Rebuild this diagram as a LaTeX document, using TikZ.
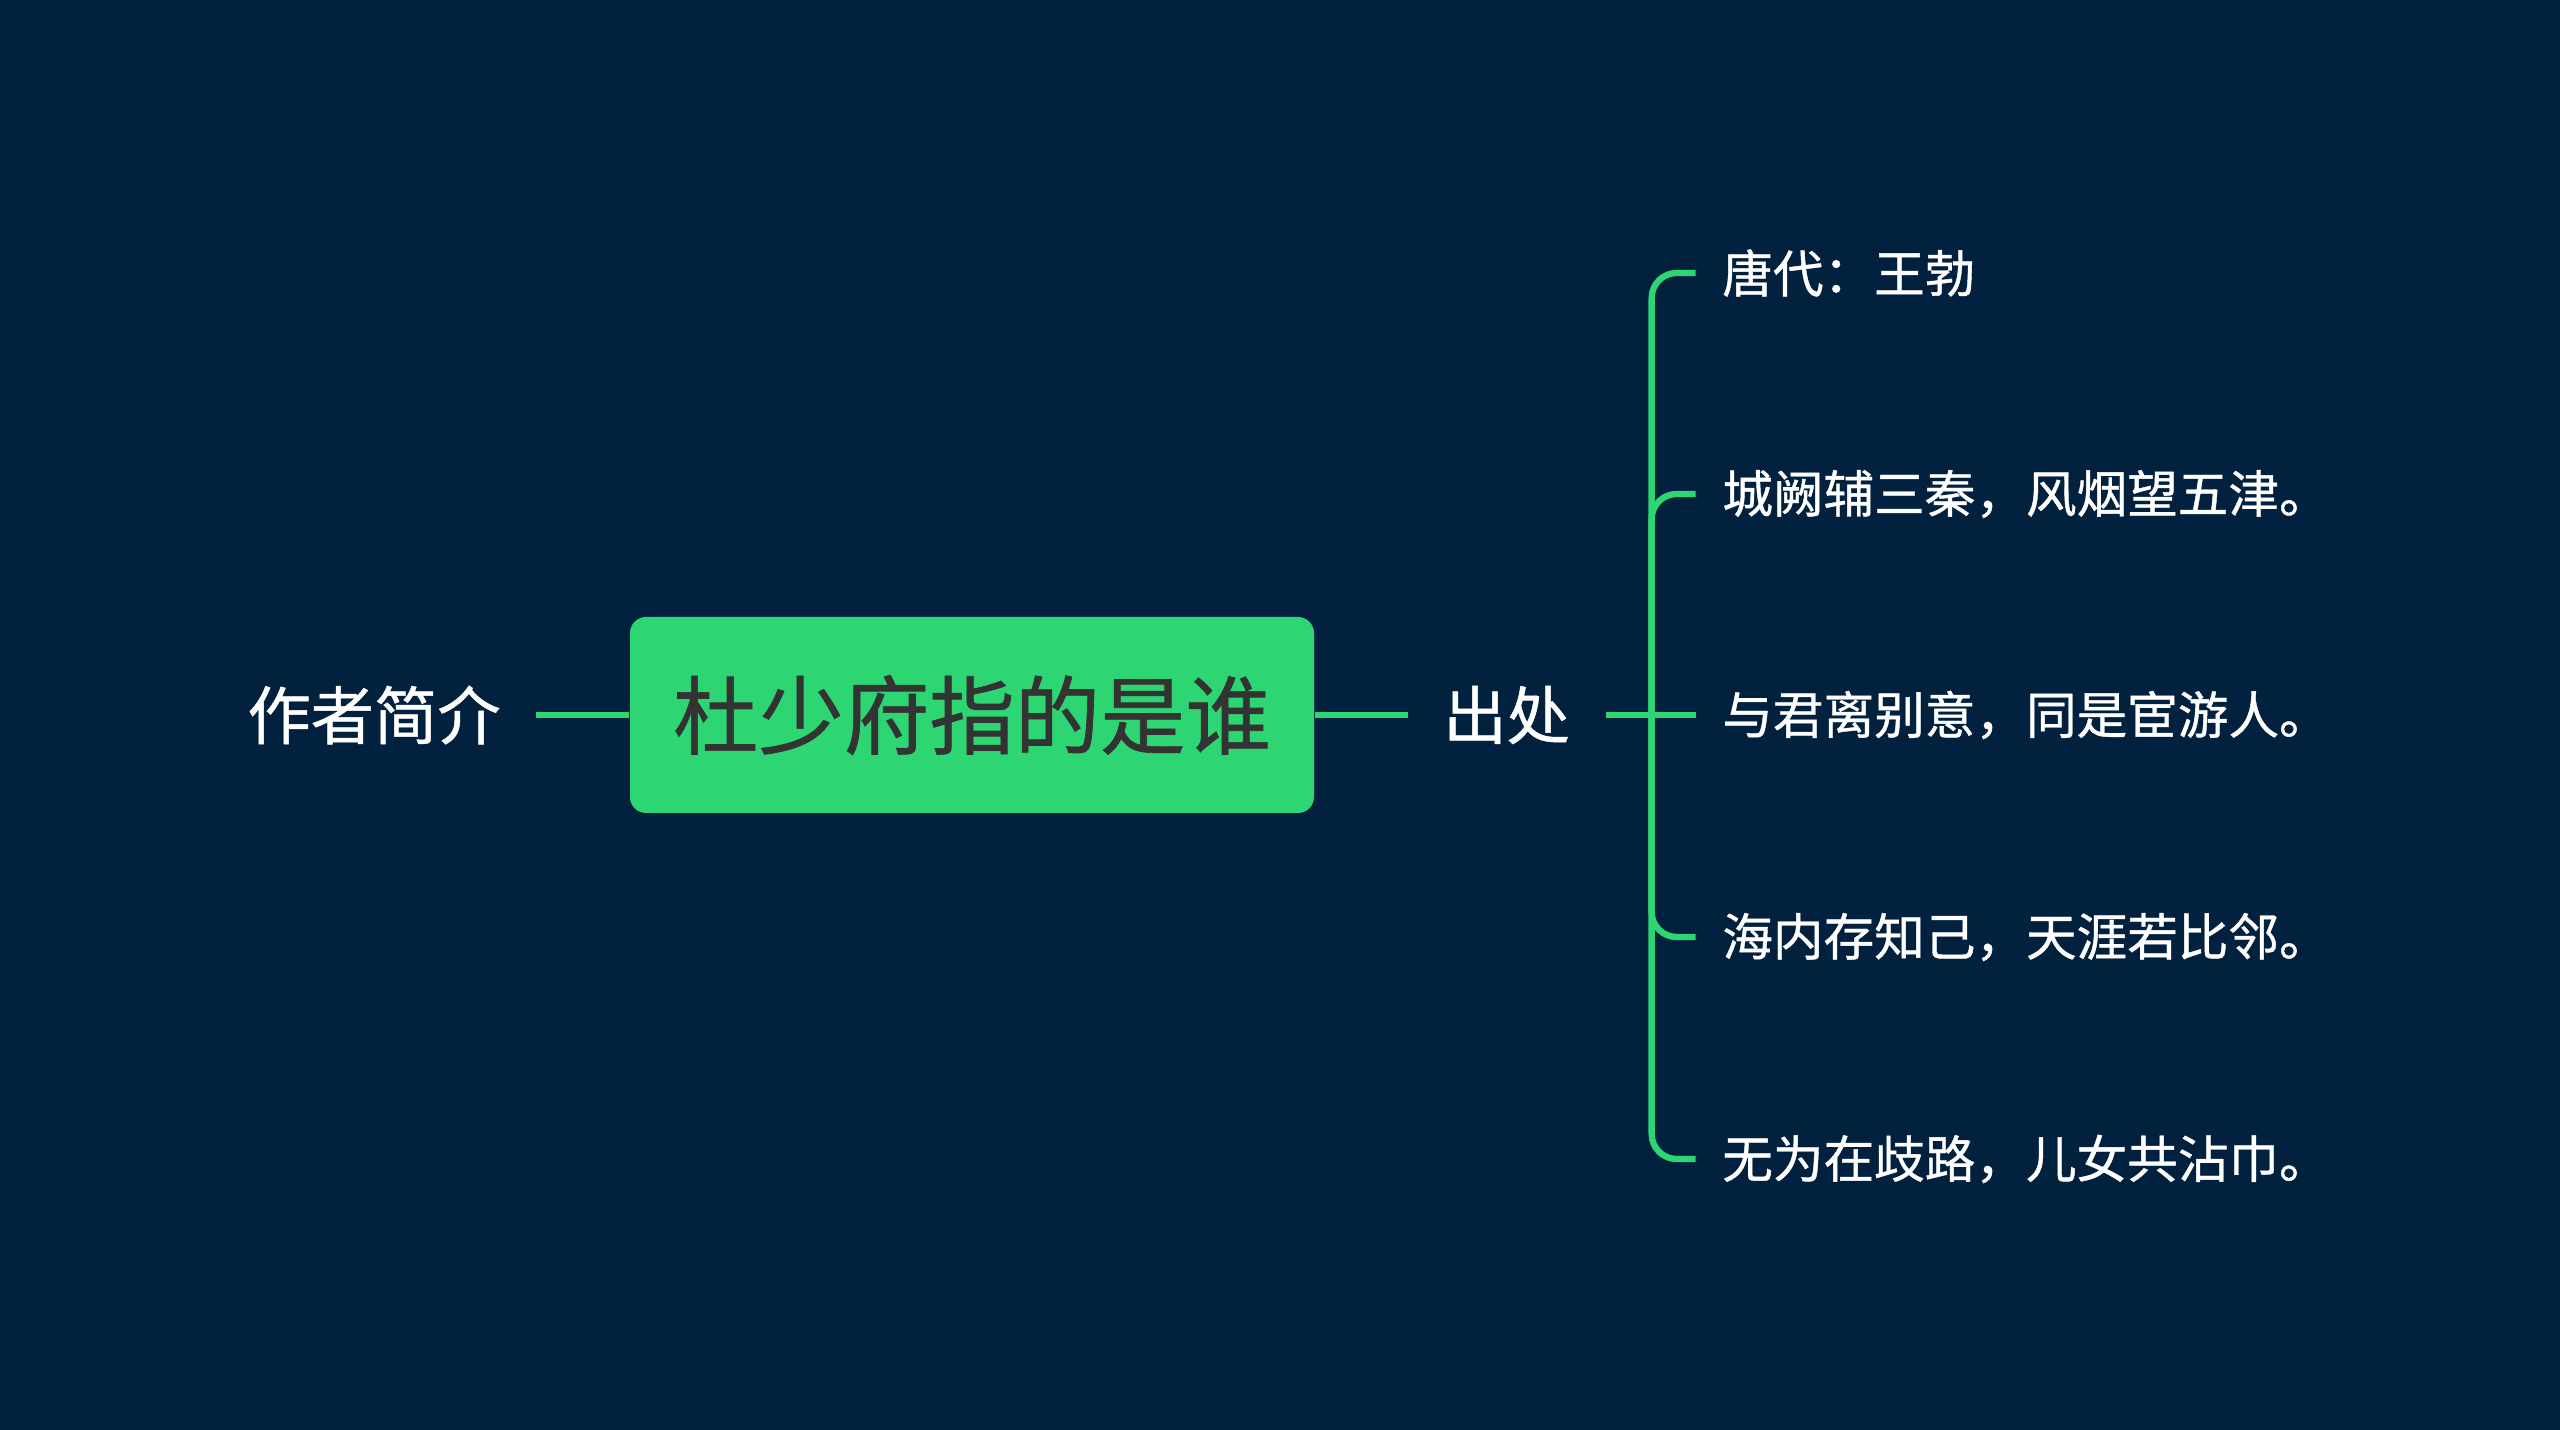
\documentclass[tikz,border=0pt]{standalone}
\usepackage{fontspec}
\usepackage{tikz}
\usetikzlibrary{positioning,calc}
\newfontfamily\cjk[FakeBold=0.8]{Noto Sans CJK SC}
\definecolor{navybg}{RGB}{2,33,63}
\definecolor{mapgreen}{RGB}{46,213,115}
\definecolor{titlegray}{RGB}{51,51,51}

\begin{document}
\begin{tikzpicture}[
    node distance=0.93cm,
    topic/.style={fill=mapgreen, rounded corners=0.16cm, minimum width=6.84cm, minimum height=1.96cm, text=titlegray, font=\cjk\fontsize{24.3}{28}\selectfont},
    branch/.style={text=white, inner xsep=0.35cm, font=\cjk\fontsize{18}{22}\selectfont},
    leaf/.style={text=white, inner xsep=0.26cm, anchor=west, font=\cjk\fontsize{14.4}{17}\selectfont},
    link/.style={mapgreen, line width=1.8pt},
    fork/.style={link, rounded corners=0.25cm}
]
    \fill[navybg] (0,0) rectangle (25.6,-14.3);
    \useasboundingbox (0,0) rectangle (25.6,-14.3);

    \node[topic] (main) at (9.72,-7.15) {杜少府指的是谁};
    \node[branch, left=of main] (author) {作者简介};
    \node[branch, right=of main] (source) {出处};

    \draw[link] (author) -- (main);
    \draw[link] (main) -- (source);

    % five lines of the poem
    \node[leaf, right=0.9cm of source] (verse3) {与君离别意，同是宦游人。};
    \node[leaf] (verse1) at ($(verse3.west)+(0,4.42)$) {唐代：王勃};
    \node[leaf] (verse2) at ($(verse3.west)+(0,2.21)$) {城阙辅三秦，风烟望五津。};
    \node[leaf] (verse4) at ($(verse3.west)+(0,-2.22)$) {海内存知己，天涯若比邻。};
    \node[leaf] (verse5) at ($(verse3.west)+(0,-4.44)$) {无为在歧路，儿女共沾巾。};

    \coordinate (split) at ($(source.east)+(0.46,0)$);
    \draw[link] (source) -- (verse3);
    \draw[fork] (split) |- (verse1.west);
    \draw[fork] (split) |- (verse2.west);
    \draw[fork] (split) |- (verse4.west);
    \draw[fork] (split) |- (verse5.west);
\end{tikzpicture}
\end{document}
